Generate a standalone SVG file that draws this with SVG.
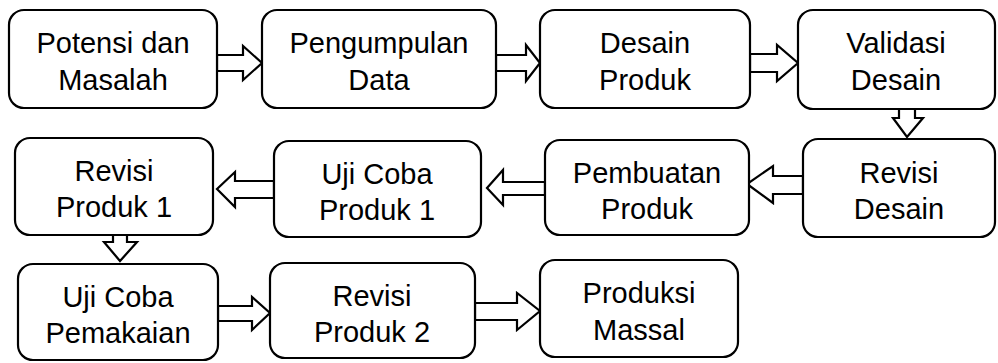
<svg xmlns="http://www.w3.org/2000/svg" width="998" height="363" viewBox="0 0 998 363">
<style>
.box{fill:#fff;stroke:#000;stroke-width:2.2}
.arr{fill:#fff;stroke:#000;stroke-width:2.2;stroke-linejoin:miter}
text{font-family:"Liberation Sans",Arial,sans-serif;font-size:29px;fill:#000;text-anchor:middle}
</style>
<rect width="998" height="363" fill="#fff"/>
<g id="connectors">
<polygon class="arr" points="217,55 243,55 243,46 262,63 243,80 243,71 217,71"/>
<polygon class="arr" points="496,55 526,55 526,45 540,63 526,81 526,71 496,71"/>
<polygon class="arr" points="750,54 777,54 777,45 798,63 777,81 777,72 750,72"/>
<polygon class="arr" points="899,109 915,109 915,118 923,118 907,137 893,118 899,118"/>
<polygon class="arr" points="803,176 773,176 773,166 747,184 773,203 773,194 803,194"/>
<polygon class="arr" points="545,182 503,182 503,170 487,188 503,205 503,195 545,195"/>
<polygon class="arr" points="274,181 235,181 235,172 217,189 235,207 235,198 274,198"/>
<polygon class="arr" points="113,235 127,235 127,242 137,242 120,261 104,242 113,242"/>
<polygon class="arr" points="218,306 252,306 252,297 270,313 252,330 252,321 218,321"/>
<polygon class="arr" points="475,303 517,303 517,293 540,311 517,330 517,320 475,320"/>
</g>
<g id="n1"><rect class="box" x="9" y="10" width="208" height="98" rx="15"/><text x="113" y="53">Potensi dan</text><text x="113" y="90">Masalah</text></g>
<g id="n2"><rect class="box" x="262" y="10" width="234" height="98" rx="15"/><text x="379" y="53">Pengumpulan</text><text x="379" y="90">Data</text></g>
<g id="n3"><rect class="box" x="540" y="10" width="210" height="98" rx="15"/><text x="645" y="53">Desain</text><text x="645" y="90">Produk</text></g>
<g id="n4"><rect class="box" x="798" y="10" width="197" height="99" rx="15"/><text x="896" y="53">Validasi</text><text x="896" y="90">Desain</text></g>
<g id="n5"><rect class="box" x="803" y="139" width="192" height="98" rx="15"/><text x="899" y="183">Revisi</text><text x="899" y="219">Desain</text></g>
<g id="n6"><rect class="box" x="545" y="140" width="204" height="95" rx="15"/><text x="647" y="183">Pembuatan</text><text x="647" y="219">Produk</text></g>
<g id="n7"><rect class="box" x="274" y="141" width="207" height="96" rx="15"/><text x="377" y="184">Uji Coba</text><text x="377" y="220">Produk 1</text></g>
<g id="n8"><rect class="box" x="15" y="138" width="198" height="97" rx="15"/><text x="114" y="181">Revisi</text><text x="114" y="217">Produk 1</text></g>
<g id="n9"><rect class="box" x="18" y="264" width="200" height="96" rx="15"/><text x="118" y="307">Uji Coba</text><text x="118" y="343">Pemakaian</text></g>
<g id="n10"><rect class="box" x="270" y="263" width="205" height="95" rx="15"/><text x="372" y="306">Revisi</text><text x="372" y="342">Produk 2</text></g>
<g id="n11"><rect class="box" x="540" y="260" width="198" height="97" rx="15"/><text x="639" y="303">Produksi</text><text x="639" y="340">Massal</text></g>
</svg>
